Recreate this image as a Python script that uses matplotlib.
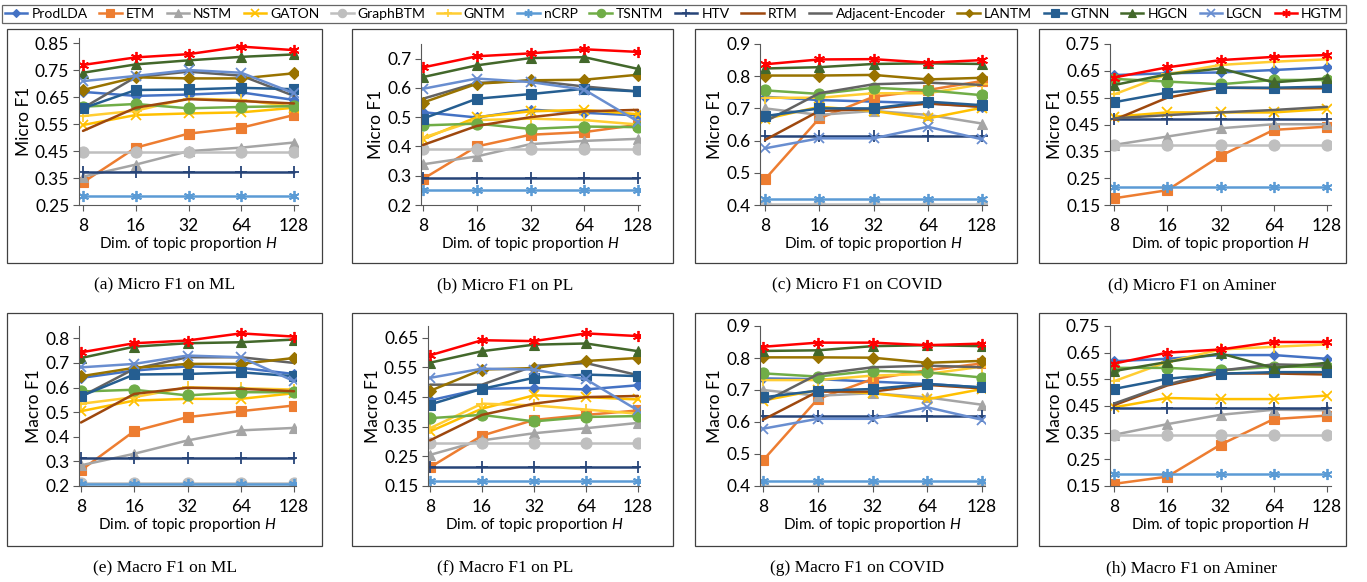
import matplotlib
matplotlib.use("Agg")
import matplotlib.pyplot as plt
from matplotlib.lines import Line2D
from matplotlib.patches import Rectangle
import numpy as np

plt.rcParams['font.family'] = ['Lato', 'DejaVu Sans']
plt.rcParams['mathtext.fontset'] = 'custom'
plt.rcParams['mathtext.it'] = 'Lato:italic'
plt.rcParams['mathtext.rm'] = 'Lato'

dims = ["8", "16", "32", "64", "128"]
methods = ["ProdLDA", "ETM", "NSTM", "GATON", "GraphBTM", "GNTM", "nCRP", "TSNTM",
           "HTV", "RTM", "Adjacent-Encoder", "LANTM", "GTNN", "HGCN", "LGCN", "HGTM"]

micro_ml = {
    "ProdLDA": [0.670, 0.655, 0.660, 0.668, 0.640],
    "ETM": [0.334, 0.463, 0.515, 0.537, 0.584],
    "NSTM": [0.355, 0.400, 0.450, 0.463, 0.482],
    "GATON": [0.547, 0.584, 0.590, 0.594, 0.611],
    "GraphBTM": [0.445, 0.445, 0.445, 0.445, 0.445],
    "GNTM": [0.580, 0.600, 0.645, 0.640, 0.615],
    "nCRP": [0.284, 0.284, 0.284, 0.284, 0.284],
    "TSNTM": [0.615, 0.625, 0.609, 0.614, 0.617],
    "HTV": [0.374, 0.374, 0.374, 0.374, 0.374],
    "RTM": [0.525, 0.611, 0.643, 0.636, 0.627],
    "Adjacent-Encoder": [0.610, 0.725, 0.745, 0.730, 0.655],
    "LANTM": [0.677, 0.724, 0.720, 0.720, 0.739],
    "GTNN": [0.609, 0.677, 0.679, 0.685, 0.680],
    "HGCN": [0.741, 0.772, 0.787, 0.800, 0.809],
    "LGCN": [0.710, 0.729, 0.751, 0.741, 0.665],
    "HGTM": [0.770, 0.798, 0.810, 0.838, 0.825],
}
micro_pl = {
    "ProdLDA": [0.517, 0.499, 0.526, 0.515, 0.506],
    "ETM": [0.289, 0.400, 0.440, 0.449, 0.474],
    "NSTM": [0.339, 0.366, 0.408, 0.419, 0.426],
    "GATON": [0.425, 0.500, 0.520, 0.525, 0.510],
    "GraphBTM": [0.392, 0.392, 0.392, 0.392, 0.392],
    "GNTM": [0.430, 0.490, 0.495, 0.490, 0.475],
    "nCRP": [0.250, 0.250, 0.250, 0.250, 0.250],
    "TSNTM": [0.472, 0.478, 0.460, 0.468, 0.466],
    "HTV": [0.291, 0.291, 0.291, 0.291, 0.291],
    "RTM": [0.405, 0.470, 0.500, 0.520, 0.525],
    "Adjacent-Encoder": [0.563, 0.617, 0.625, 0.605, 0.588],
    "LANTM": [0.550, 0.614, 0.626, 0.628, 0.645],
    "GTNN": [0.495, 0.563, 0.579, 0.597, 0.588],
    "HGCN": [0.637, 0.677, 0.702, 0.705, 0.665],
    "LGCN": [0.597, 0.632, 0.620, 0.594, 0.485],
    "HGTM": [0.670, 0.708, 0.718, 0.732, 0.723],
}
micro_covid = {
    "ProdLDA": [0.736, 0.726, 0.721, 0.716, 0.705],
    "ETM": [0.480, 0.669, 0.736, 0.757, 0.785],
    "NSTM": [0.700, 0.680, 0.692, 0.680, 0.653],
    "GATON": [0.667, 0.705, 0.692, 0.669, 0.702],
    "GraphBTM": [0.403, 0.403, 0.403, 0.403, 0.403],
    "GNTM": [0.733, 0.733, 0.747, 0.747, 0.775],
    "nCRP": [0.419, 0.419, 0.419, 0.419, 0.419],
    "TSNTM": [0.756, 0.745, 0.764, 0.756, 0.741],
    "HTV": [0.615, 0.615, 0.615, 0.615, 0.615],
    "RTM": [0.602, 0.692, 0.698, 0.715, 0.705],
    "Adjacent-Encoder": [0.659, 0.747, 0.775, 0.780, 0.773],
    "LANTM": [0.802, 0.802, 0.804, 0.790, 0.795],
    "GTNN": [0.676, 0.700, 0.700, 0.721, 0.710],
    "HGCN": [0.824, 0.828, 0.838, 0.840, 0.838],
    "LGCN": [0.576, 0.607, 0.607, 0.643, 0.604],
    "HGTM": [0.837, 0.852, 0.853, 0.842, 0.850],
}
micro_aminer = {
    "ProdLDA": [0.634, 0.641, 0.644, 0.653, 0.663],
    "ETM": [0.175, 0.205, 0.333, 0.430, 0.442],
    "NSTM": [0.374, 0.405, 0.436, 0.451, 0.451],
    "GATON": [0.479, 0.495, 0.495, 0.495, 0.508],
    "GraphBTM": [0.374, 0.374, 0.374, 0.374, 0.374],
    "GNTM": [0.562, 0.637, 0.672, 0.684, 0.693],
    "nCRP": [0.218, 0.218, 0.218, 0.218, 0.218],
    "TSNTM": [0.620, 0.610, 0.600, 0.616, 0.616],
    "HTV": [0.469, 0.469, 0.469, 0.469, 0.469],
    "RTM": [0.467, 0.550, 0.587, 0.585, 0.585],
    "Adjacent-Encoder": [0.473, 0.485, 0.495, 0.504, 0.516],
    "GTNN": [0.533, 0.569, 0.587, 0.587, 0.591],
    "HGCN": [0.597, 0.637, 0.659, 0.607, 0.622],
    "HGTM": [0.625, 0.663, 0.690, 0.702, 0.709],
}
macro_ml = {
    "ProdLDA": [0.639, 0.669, 0.686, 0.680, 0.655],
    "ETM": [0.264, 0.423, 0.480, 0.504, 0.527],
    "NSTM": [0.284, 0.331, 0.385, 0.426, 0.436],
    "GATON": [0.504, 0.547, 0.554, 0.554, 0.577],
    "GraphBTM": [0.212, 0.212, 0.212, 0.212, 0.212],
    "GNTM": [0.534, 0.561, 0.601, 0.597, 0.592],
    "nCRP": [0.207, 0.207, 0.207, 0.207, 0.207],
    "TSNTM": [0.584, 0.591, 0.568, 0.581, 0.581],
    "HTV": [0.315, 0.315, 0.315, 0.315, 0.315],
    "RTM": [0.458, 0.574, 0.599, 0.595, 0.585],
    "Adjacent-Encoder": [0.563, 0.676, 0.723, 0.723, 0.700],
    "LANTM": [0.646, 0.680, 0.696, 0.696, 0.720],
    "GTNN": [0.565, 0.653, 0.655, 0.662, 0.646],
    "HGCN": [0.720, 0.766, 0.780, 0.784, 0.795],
    "LGCN": [0.682, 0.696, 0.730, 0.723, 0.626],
    "HGTM": [0.743, 0.780, 0.791, 0.820, 0.807],
}
macro_pl = {
    "ProdLDA": [0.439, 0.478, 0.481, 0.476, 0.490],
    "ETM": [0.213, 0.320, 0.373, 0.390, 0.405],
    "NSTM": [0.255, 0.304, 0.328, 0.345, 0.363],
    "GATON": [0.334, 0.411, 0.456, 0.450, 0.442],
    "GraphBTM": [0.294, 0.294, 0.294, 0.294, 0.294],
    "GNTM": [0.345, 0.428, 0.422, 0.408, 0.394],
    "nCRP": [0.166, 0.166, 0.166, 0.166, 0.166],
    "TSNTM": [0.379, 0.390, 0.368, 0.383, 0.386],
    "HTV": [0.213, 0.213, 0.213, 0.213, 0.213],
    "RTM": [0.304, 0.390, 0.428, 0.450, 0.454],
    "Adjacent-Encoder": [0.492, 0.492, 0.555, 0.565, 0.524],
    "LANTM": [0.471, 0.543, 0.548, 0.572, 0.582],
    "GTNN": [0.425, 0.478, 0.515, 0.526, 0.521],
    "HGCN": [0.566, 0.605, 0.627, 0.631, 0.605],
    "LGCN": [0.515, 0.546, 0.543, 0.510, 0.405],
    "HGTM": [0.591, 0.642, 0.639, 0.665, 0.656],
}
macro_covid = {
    "ProdLDA": [0.736, 0.734, 0.726, 0.719, 0.708],
    "ETM": [0.480, 0.672, 0.734, 0.762, 0.783],
    "NSTM": [0.700, 0.682, 0.690, 0.677, 0.654],
    "GATON": [0.667, 0.700, 0.690, 0.671, 0.703],
    "GraphBTM": [0.400, 0.400, 0.400, 0.400, 0.400],
    "GNTM": [0.731, 0.731, 0.745, 0.750, 0.773],
    "nCRP": [0.416, 0.416, 0.416, 0.416, 0.416],
    "TSNTM": [0.752, 0.742, 0.760, 0.755, 0.739],
    "HTV": [0.619, 0.619, 0.619, 0.619, 0.619],
    "RTM": [0.607, 0.695, 0.695, 0.716, 0.705],
    "Adjacent-Encoder": [0.661, 0.749, 0.771, 0.776, 0.771],
    "LANTM": [0.802, 0.802, 0.801, 0.785, 0.791],
    "GTNN": [0.677, 0.698, 0.703, 0.719, 0.708],
    "HGCN": [0.822, 0.824, 0.837, 0.840, 0.837],
    "LGCN": [0.579, 0.610, 0.610, 0.646, 0.607],
    "HGTM": [0.835, 0.848, 0.848, 0.840, 0.845],
}
macro_aminer = {
    "ProdLDA": [0.618, 0.627, 0.641, 0.641, 0.627],
    "ETM": [0.158, 0.185, 0.305, 0.401, 0.414],
    "NSTM": [0.342, 0.382, 0.417, 0.436, 0.434],
    "GATON": [0.445, 0.480, 0.476, 0.476, 0.489],
    "GraphBTM": [0.342, 0.342, 0.342, 0.342, 0.342],
    "GNTM": [0.543, 0.615, 0.662, 0.672, 0.681],
    "nCRP": [0.195, 0.195, 0.195, 0.195, 0.195],
    "TSNTM": [0.593, 0.593, 0.584, 0.597, 0.597],
    "HTV": [0.443, 0.443, 0.443, 0.443, 0.443],
    "RTM": [0.453, 0.527, 0.572, 0.572, 0.568],
    "Adjacent-Encoder": [0.459, 0.530, 0.583, 0.606, 0.602],
    "GTNN": [0.514, 0.552, 0.571, 0.577, 0.577],
    "HGCN": [0.581, 0.615, 0.647, 0.593, 0.612],
    "HGTM": [0.609, 0.650, 0.662, 0.690, 0.690],
}

asterisk = (6, 2, 0)
styles = {
    "ProdLDA": ("#4472C4", "D", 5),
    "ETM": ("#ED7D31", "s", 7),
    "NSTM": ("#A5A5A5", "^", 7),
    "GATON": ("#FFC000", "x", 7),
    "GraphBTM": ("#BFBFBF", "o", 8),
    "GNTM": ("#FFCD33", "+", 8),
    "nCRP": ("#5B9BD5", asterisk, 8),
    "TSNTM": ("#70AD47", "o", 8),
    "HTV": ("#264478", "+", 8),
    "RTM": ("#9E480E", None, 0),
    "Adjacent-Encoder": ("#636363", None, 0),
    "LANTM": ("#997300", "D", 6),
    "GTNN": ("#255E91", "s", 7),
    "HGCN": ("#43682B", "^", 7),
    "LGCN": ("#698ED0", "x", 7),
    "HGTM": ("#FF0000", asterisk, 8),
}

W, H = 1367, 582
fig = plt.figure(figsize=(W / 100, H / 100), dpi=100)


def fbox(left, top, right, bottom):
    return [left / W, 1 - bottom / H, (right - left) / W, (bottom - top) / H]


# (data, ylabel, ymin, ymax, step, top, caption, axis_x, x8, x128, frame, caption_x)
panels = [
    (micro_ml, "Micro F1", 0.25, 0.87, 0.1, 38, "(a) Micro F1 on ML", 79, 83, 294, (7, 29, 322, 263), 165),
    (micro_pl, "Micro F1", 0.2, 0.75, 0.1, 44, "(b) Micro F1 on PL", 421, 423, 638, (352, 29, 673, 263), 505),
    (micro_covid, "Micro F1", 0.4, 0.9, 0.1, 44, "(c) Micro F1 on COVID", 760, 765, 982, (695, 29, 1017, 263), 857),
    (micro_aminer, "Micro F1", 0.15, 0.75, 0.1, 44, "(d) Micro F1 on Aminer", 1110, 1114, 1327, (1039, 29, 1346, 263), 1192),
    (macro_ml, "Macro F1", 0.2, 0.85, 0.1, 326, "(e) Macro F1 on ML", 79, 81, 294, (7, 313, 322, 546), 165),
    (macro_pl, "Macro F1", 0.15, 0.69, 0.1, 326, "(f) Macro F1 on PL", 428, 430, 638, (352, 313, 673, 546), 505),
    (macro_covid, "Macro F1", 0.4, 0.9, 0.1, 326, "(g) Macro F1 on COVID", 760, 763, 982, (695, 313, 1017, 546), 857),
    (macro_aminer, "Macro F1", 0.15, 0.75, 0.1, 326, "(h) Macro F1 on Aminer", 1110, 1114, 1327, (1039, 313, 1346, 546), 1192),
]

for data, ylab, ymin, ymax, step, top, cap, ax_x, x8, x128, frame, cap_x in panels:
    row_bottom = 205 if top < 100 else 486
    sp = (x128 - x8) / 4
    d = x8 - ax_x
    ax = fig.add_axes(fbox(ax_x, top, x128 + d, row_bottom))
    ax.set_xlim(-d / sp, 4 + d / sp)
    ax.set_ylim(ymin, ymax)
    xs = np.arange(len(dims))
    for m in methods:
        if m not in data:
            continue
        c, mk, ms = styles[m]
        ax.plot(xs, data[m], color=c, lw=1.8, marker=mk, markersize=ms,
                markeredgewidth=1.3 if mk in ("x", "+", asterisk) else 0.8, solid_capstyle='round')
    ticks = np.arange(ymin, ymax + 1e-9, step)
    ticks = [t for t in ticks if t <= ymax + 1e-9]
    ax.set_yticks(ticks)
    ax.set_yticklabels(["%g" % round(t, 2) for t in ticks])
    ax.set_xticks(xs)
    ax.set_xticklabels(dims)
    ax.tick_params(axis='both', labelsize=12.5, length=4, width=0.8, color="#595959")
    ax.tick_params(axis='x', pad=5)
    ax.tick_params(axis='y', pad=3)
    for s in ("top", "right"):
        ax.spines[s].set_visible(False)
    for s in ("left", "bottom"):
        ax.spines[s].set_color("#595959")
        ax.spines[s].set_linewidth(0.8)
    ax.set_ylabel(ylab, fontsize=12.5, labelpad=2)
    ax.set_xlabel("Dim. of topic proportion $H$", fontsize=11, labelpad=1)
    l, t, r, b = frame
    fig.patches.append(Rectangle((l / W, 1 - b / H), (r - l) / W, (b - t) / H,
                                 transform=fig.transFigure, fill=False, edgecolor="#404040", lw=0.9))
    cap_y = b + 22
    fig.text(cap_x / W, 1 - cap_y / H, cap, ha="center", va="center",
             fontsize=12.5, family="Liberation Serif")

handles = []
for m in methods:
    c, mk, ms = styles[m]
    handles.append(Line2D([], [], color=c, lw=1.8, marker=mk, markersize=ms * 0.75,
                          markeredgewidth=1.2 if mk in ("x", "+", asterisk) else 0.8))
leg = fig.legend(handles, methods, loc="center", bbox_to_anchor=(674 / W, 1 - 14 / H),
                 ncol=16, fontsize=10, frameon=True, handlelength=1.6, handletextpad=0.3,
                 columnspacing=0.85, borderpad=0.25, fancybox=False, edgecolor="#404040")
leg.get_frame().set_linewidth(0.9)

fig.savefig("out.png", dpi=100)
